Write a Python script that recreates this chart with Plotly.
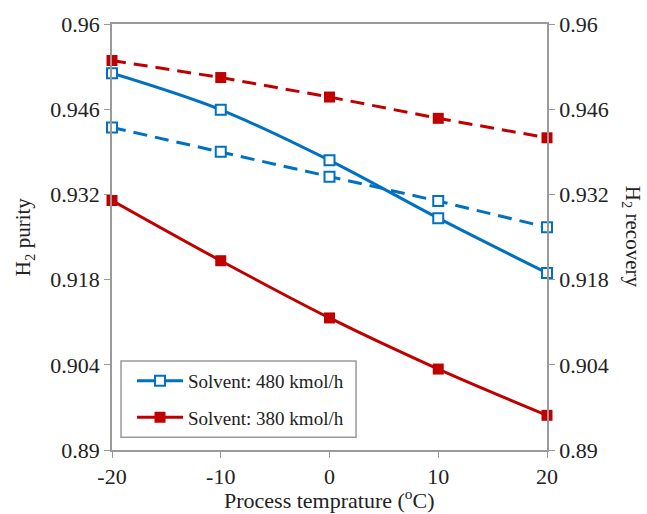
import plotly.graph_objects as go

# Process temperature (°C)
temperature = [-20, -10, 0, 10, 20]

# H2 purity and recovery for two solvent flow rates
purity_480 = [0.9519, 0.9459, 0.9376, 0.9281, 0.9191]
recovery_480 = [0.9430, 0.9390, 0.9349, 0.9309, 0.9266]
purity_380 = [0.9310, 0.9211, 0.9117, 0.9033, 0.8957]
recovery_380 = [0.9540, 0.9512, 0.9480, 0.9445, 0.9413]

y_ticks = [0.89, 0.904, 0.918, 0.932, 0.946, 0.96]
y_tick_text = ["0.89", "0.904", "0.918", "0.932", "0.946", "0.96"]
x_ticks = [-20, -10, 0, 10, 20]
x_tick_text = ["-20", "-10", "0", "10", "20"]

BLUE = "#0070C0"
RED = "#C00000"
AXIS = "#9a9a9a"
TEXT = "#222"
FONT = "Times New Roman, Liberation Serif, serif"
DASH = "14px,8px"

open_marker = dict(symbol="square", size=10, color="white",
                   line=dict(color=BLUE, width=2))
filled_marker = dict(symbol="square", size=11, color=RED)

fig = go.Figure()

# Purity (left axis) – solid smoothed lines
fig.add_trace(go.Scatter(
    x=temperature, y=purity_480, name="Solvent: 480 kmol/h",
    mode="lines+markers", line=dict(color=BLUE, width=3, shape="spline"),
    marker=open_marker, cliponaxis=False, legendgroup="a",
))
fig.add_trace(go.Scatter(
    x=temperature, y=purity_380, name="Solvent: 380 kmol/h",
    mode="lines+markers", line=dict(color=RED, width=3, shape="spline"),
    marker=filled_marker, cliponaxis=False, legendgroup="b",
))

# Recovery (right axis) – dashed lines
fig.add_trace(go.Scatter(
    x=temperature, y=recovery_480, yaxis="y2", showlegend=False,
    mode="lines+markers", line=dict(color=BLUE, width=3, dash=DASH),
    marker=open_marker, cliponaxis=False,
))
fig.add_trace(go.Scatter(
    x=temperature, y=recovery_380, yaxis="y2", showlegend=False,
    mode="lines+markers", line=dict(color=RED, width=3, dash=DASH),
    marker=filled_marker, cliponaxis=False,
))

axis_common = dict(
    showgrid=False, zeroline=False, showline=True, linecolor=AXIS,
    linewidth=1.5, ticks="outside", tickcolor=AXIS, ticklen=6,
    tickfont=dict(family=FONT, size=22, color=TEXT),
)

# Axis titles
title_font = dict(family=FONT, size=21, color=TEXT)
fig.add_annotation(text="Process temprature (<sup>o</sup>C)", xref="paper",
                   yref="paper", x=0.5, y=-0.114, xanchor="center",
                   yanchor="middle", showarrow=False,
                   font=dict(family=FONT, size=22, color=TEXT))
fig.add_annotation(text="H<sub>2</sub> purity", xref="paper", yref="paper",
                   x=-0.202, y=0.5, xanchor="center", yanchor="middle",
                   textangle=-90, showarrow=False, font=title_font)
fig.add_annotation(text="H<sub>2</sub> recovery", xref="paper", yref="paper",
                   x=1.196, y=0.5, xanchor="center", yanchor="middle",
                   textangle=90, showarrow=False, font=title_font)

# Legend frame
fig.add_shape(type="rect", xref="paper", yref="paper",
              x0=0.0207, x1=0.561, y0=0.030, y1=0.209,
              line=dict(color=AXIS, width=1.5), fillcolor="white", layer="below")

fig.update_layout(
    width=647, height=514,
    margin=dict(l=112, r=100, t=20, b=64),
    paper_bgcolor="white", plot_bgcolor="white",
    font=dict(family=FONT, color=TEXT),
    xaxis=dict(range=[-20, 20], tickvals=x_ticks, ticktext=x_tick_text,
               mirror=True, **axis_common),
    yaxis=dict(range=[0.89, 0.96], tickvals=y_ticks, ticktext=y_tick_text,
               **axis_common),
    yaxis2=dict(range=[0.89, 0.96], tickvals=y_ticks, ticktext=y_tick_text,
                overlaying="y", side="right", **axis_common),
    legend=dict(
        x=0.046, y=0.207, xanchor="left", yanchor="top",
        bgcolor="rgba(0,0,0,0)", borderwidth=0,
        font=dict(family=FONT, size=19, color=TEXT),
        itemwidth=46, tracegroupgap=9,
    ),
    showlegend=True,
)

fig.write_html("out.html")
